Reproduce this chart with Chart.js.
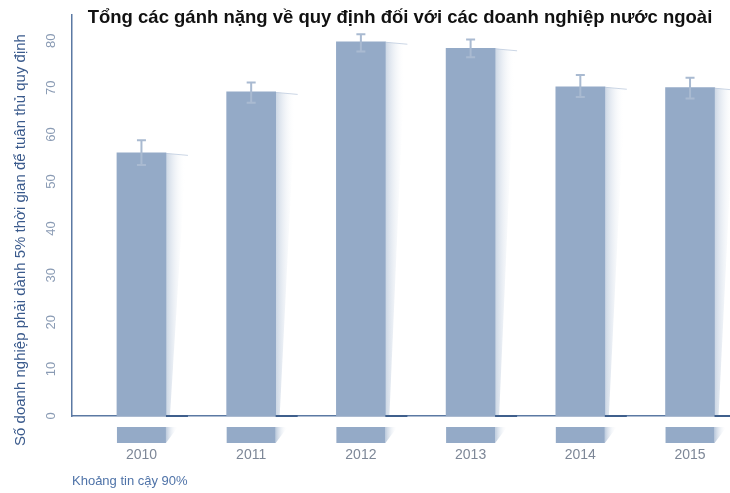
<!DOCTYPE html>
<html>
<head>
<meta charset="utf-8">
<script src="https://cdn.jsdelivr.net/npm/chart.js@4.4.1/dist/chart.umd.min.js"></script>
<style>
  html, body { margin: 0; padding: 0; background: #fff; overflow: hidden; }
  #wrap { width: 730px; height: 493px; position: relative; }
</style>
</head>
<body>
<div id="wrap"><canvas id="chart" width="730" height="493"></canvas></div>
<script>
// Chart data
const years = ['2010', '2011', '2012', '2013', '2014', '2015'];
const shares = [56.1, 69.1, 79.8, 78.4, 70.2, 70.0];
const ciLow = [53.5, 66.8, 77.7, 76.5, 68.0, 67.7];
const ciHigh = [58.8, 71.1, 81.4, 80.3, 72.7, 72.1];
const yTicks = [0, 10, 20, 30, 40, 50, 60, 70, 80];

const titleText = 'Tổng các gánh nặng về quy định đối với các doanh nghiệp nước ngoài';
const yTitle = 'Số doanh nghiệp phải dành 5% thời gian để tuân thủ quy định';
const noteText = 'Khoảng tin cậy 90%';

const barColor = '#94aac7';
const axisColor = '#5b79a3';
const FONT = '"Liberation Sans", Arial, sans-serif';

// extra drawing: shading, strips, error bars, texts
const decorPlugin = {
  id: 'decor',
  beforeDatasetsDraw(chart) {
    const ctx = chart.ctx;
    const y = chart.scales.y;
    const zero = y.getPixelForValue(0);
    chart.getDatasetMeta(0).data.forEach(bar => {
      const right = bar.x + bar.width / 2;
      const top = bar.y;
      const g = ctx.createLinearGradient(right, 0, right + 20, 0);
      g.addColorStop(0, 'rgba(160,180,206,0.55)');
      g.addColorStop(1, 'rgba(255,255,255,0)');
      ctx.save();
      ctx.fillStyle = g;
      ctx.beginPath();
      ctx.moveTo(right, top);
      ctx.lineTo(right + 20, top + 3);
      ctx.lineTo(right + 4, zero);
      ctx.lineTo(right, zero);
      ctx.closePath();
      ctx.fill();
      ctx.strokeStyle = 'rgba(190,204,222,0.8)';
      ctx.lineWidth = 1;
      ctx.beginPath();
      ctx.moveTo(right, top + 0.5);
      ctx.lineTo(right + 22, top + 2.5);
      ctx.stroke();
      ctx.restore();
    });
  },
  afterDatasetsDraw(chart) {
    const ctx = chart.ctx;
    const y = chart.scales.y;
    const zero = y.getPixelForValue(0);
    const meta = chart.getDatasetMeta(0);
    ctx.save();
    meta.data.forEach((bar, i) => {
      const left = bar.x - bar.width / 2;
      const right = bar.x + bar.width / 2;
      // strip under axis
      ctx.fillStyle = barColor;
      ctx.fillRect(left, zero + 11, bar.width, 16);
      const g = ctx.createLinearGradient(right, 0, right + 12, 0);
      g.addColorStop(0, 'rgba(160,180,206,0.7)');
      g.addColorStop(1, 'rgba(255,255,255,0)');
      ctx.fillStyle = g;
      ctx.beginPath();
      ctx.moveTo(right, zero + 11);
      ctx.lineTo(right + 12, zero + 11);
      ctx.lineTo(right, zero + 27);
      ctx.closePath();
      ctx.fill();
      // darker axis piece right of bar
      ctx.strokeStyle = '#3f5f8c';
      ctx.lineWidth = 2;
      ctx.beginPath();
      ctx.moveTo(right, zero);
      ctx.lineTo(right + 22, zero);
      ctx.stroke();
      // error bar
      const hi = y.getPixelForValue(ciHigh[i]);
      const lo = y.getPixelForValue(ciLow[i]);
      ctx.strokeStyle = '#a9bad1';
      ctx.lineWidth = 2;
      ctx.beginPath();
      ctx.moveTo(bar.x, hi);
      ctx.lineTo(bar.x, lo);
      ctx.moveTo(bar.x - 4.5, hi);
      ctx.lineTo(bar.x + 4.5, hi);
      ctx.moveTo(bar.x - 4.5, lo);
      ctx.lineTo(bar.x + 4.5, lo);
      ctx.stroke();
    });
    ctx.restore();
  },
  afterDraw(chart) {
    const ctx = chart.ctx;
    const y = chart.scales.y;
    ctx.save();
    // y tick labels, rotated
    ctx.fillStyle = '#8a9bb4';
    ctx.font = '13px ' + FONT;
    ctx.textAlign = 'center';
    ctx.textBaseline = 'middle';
    yTicks.forEach(v => {
      ctx.save();
      ctx.translate(51, y.getPixelForValue(v));
      ctx.rotate(-Math.PI / 2);
      ctx.fillText(String(v), 0, 0);
      ctx.restore();
    });
    // y title
    ctx.save();
    ctx.fillStyle = '#3a5a8c';
    ctx.font = '15px ' + FONT;
    ctx.translate(21, 240);
    ctx.rotate(-Math.PI / 2);
    ctx.fillText(yTitle, 0, 0);
    ctx.restore();
    // main title
    ctx.fillStyle = '#111';
    ctx.font = 'bold 18.5px ' + FONT;
    ctx.fillText(titleText, 400, 18);
    // note
    ctx.fillStyle = '#4f73a8';
    ctx.font = '13px ' + FONT;
    ctx.textAlign = 'left';
    ctx.fillText(noteText, 72, 481);
    ctx.restore();
  }
};

new Chart(document.getElementById('chart'), {
  type: 'bar',
  data: {
    datasets: [{
      data: shares.map((v, i) => ({ x: i, y: v })),
      backgroundColor: barColor,
      borderWidth: 0,
      barThickness: 49
    }]
  },
  options: {
    responsive: false,
    animation: false,
    layout: { padding: { top: 15, right: 2, left: 0, bottom: 0 } },
    plugins: {
      legend: { display: false },
      title: { display: false },
      tooltip: { enabled: false }
    },
    scales: {
      x: {
        type: 'linear',
        offset: false,
        min: -0.633,
        max: 5.346,
        afterBuildTicks: s => { s.ticks = years.map((_, i) => ({ value: i })); },
        afterFit: s => { s.height = 77; s.paddingLeft = 0; s.paddingRight = 0; },
        grid: { display: false, drawTicks: false, offset: false },
        border: { display: true, color: axisColor, width: 1.5 },
        ticks: {
          color: '#7d8797',
          font: { size: 14, family: FONT },
          padding: 31,
          callback: v => years[v]
        }
      },
      y: {
        min: 0,
        max: 85.5,
        afterFit: s => { s.width = 72; },
        grid: { display: false, drawTicks: false },
        border: { display: true, color: axisColor, width: 1.5 },
        ticks: { display: false }
      }
    }
  },
  plugins: [decorPlugin]
});
</script>
</body>
</html>
